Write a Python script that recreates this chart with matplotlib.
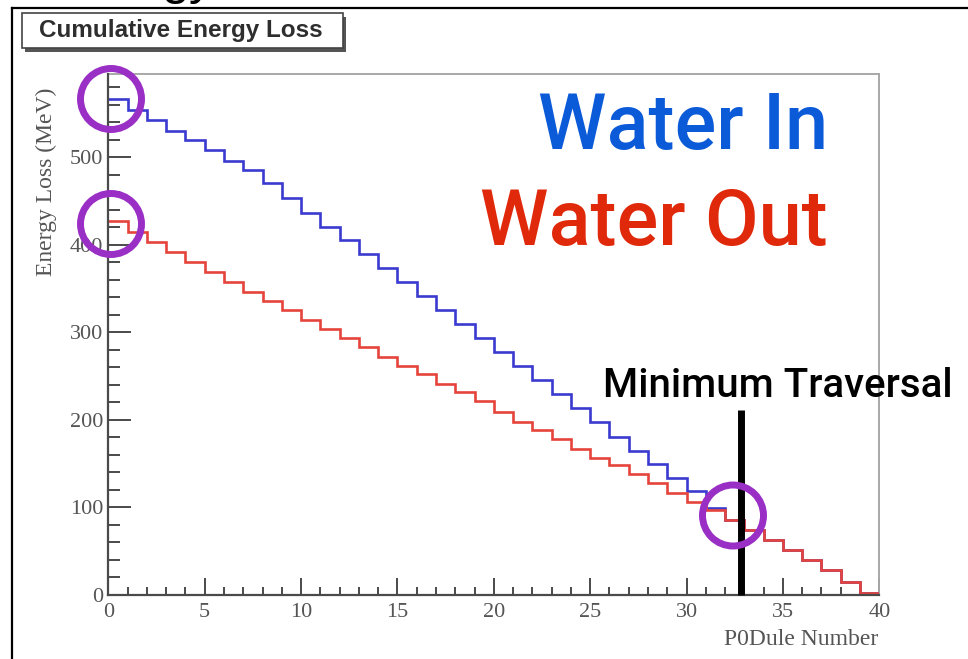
#!/usr/bin/env python
"""Cumulative energy loss per P0Dule, water-in vs water-out."""

import matplotlib

matplotlib.use("Agg")

import matplotlib.pyplot as plt
import numpy as np
from matplotlib.lines import Line2D
from matplotlib.patches import Ellipse, Rectangle

W, H = 968, 659

module_edges = np.arange(0, 41)
water_in = [566, 554, 543, 530, 520, 508, 496, 485, 470, 453,
            436, 420, 405, 389, 374, 357, 341, 325, 309, 293,
            278, 262, 246, 229, 214, 198, 181, 165, 150, 134,
            119, 99, 86, 74, 63, 51, 40, 28, 15, 2]
water_out = [427, 414, 403, 392, 380, 369, 357, 346, 336, 325,
             314, 304, 293, 283, 272, 262, 252, 241, 232, 222,
             209, 198, 188, 178, 167, 157, 148, 138, 128, 117,
             106, 97, 86, 74, 63, 51, 40, 28, 15, 2]
x_ticks = [0, 5, 10, 15, 20, 25, 30, 35, 40]
y_ticks = [0, 100, 200, 300, 400, 500]
y_max = 595
traversal_module = 32.8
traversal_top = 211

SERIF = "Liberation Serif"
SANS = "Roboto"
GREY_TEXT = "#555555"
AXIS_GREY = "#4a4a4a"
PURPLE = "#9a2fc6"


def fx(x):
    return x / W


def fy(y):
    return 1 - y / H


def ring(fig, cx, cy, r):
    fig.add_artist(Ellipse((fx(cx), fy(cy)), 2 * r / W, 2 * r / H, fill=False,
                           edgecolor=PURPLE, linewidth=5, transform=fig.transFigure, zorder=10))


fig = plt.figure(figsize=(W / 100, H / 100), dpi=100)
fig.patch.set_facecolor("white")

# slide frame and the tail of the slide heading above it
fig.add_artist(Line2D([fx(12), fx(12)], [fy(8), 0], color="black", lw=1.6, transform=fig.transFigure))
fig.add_artist(Line2D([fx(12), 1], [fy(8), fy(8)], color="black", lw=1.6, transform=fig.transFigure))
fig.text(fx(215), 1 + 5.5 / H, "gy", ha="right", va="baseline", fontsize=36,
         family="Liberation Sans", color="black")

ax = fig.add_axes([fx(108.3), fy(595), 771 / W, 521 / H])
ax.stairs(water_in, module_edges, baseline=None, color="#3a3ad0", linewidth=1.9, zorder=3)
ax.stairs(water_out, module_edges, baseline=None, color="#e5443c", linewidth=1.9, zorder=4)
ax.plot([traversal_module, traversal_module], [0, traversal_top], color="black",
        linewidth=5, solid_capstyle="butt", zorder=6, clip_on=False)

ax.set_xlim(0, 40)
ax.set_ylim(0, y_max)
ax.set_xticks(x_ticks)
ax.set_xticks(np.arange(0, 41), minor=True)
ax.set_yticks(y_ticks)
ax.set_yticks(np.arange(0, y_max, 20), minor=True)

ax.tick_params(axis="both", which="both", direction="in", color=AXIS_GREY, width=1.4,
               labelcolor=GREY_TEXT, labelsize=16)
ax.tick_params(axis="x", which="major", length=12, pad=6)
ax.tick_params(axis="x", which="minor", length=6)
ax.tick_params(axis="y", which="major", length=16.5, pad=3.5)
ax.tick_params(axis="y", which="minor", length=8.6)
ax.tick_params(top=False, right=False)
for label in ax.get_xticklabels() + ax.get_yticklabels():
    label.set_family(SERIF)

for side in ("left", "bottom"):
    ax.spines[side].set_color(AXIS_GREY)
    ax.spines[side].set_linewidth(1.6)
    ax.spines[side].set_zorder(5)
for side in ("top", "right"):
    ax.spines[side].set_color("#a8a8a8")
    ax.spines[side].set_linewidth(1.4)

fig.text(fx(878), fy(645), "P0Dule Number", ha="right", va="baseline", fontsize=17,
         family=SERIF, color=GREY_TEXT)
fig.text(fx(46), fy(88), "Energy Loss (MeV)", ha="center", va="top", rotation=90,
         fontsize=17, family=SERIF, color=GREY_TEXT)

# histogram title box with drop shadow
fig.add_artist(Rectangle((fx(25), fy(51.5)), 321 / W, 35 / H, facecolor="#555555",
                         edgecolor="none", transform=fig.transFigure, zorder=7))
fig.add_artist(Rectangle((fx(22), fy(48.3)), 321 / W, 35 / H, facecolor="white",
                         edgecolor="#444444", linewidth=1.2, transform=fig.transFigure, zorder=8))
fig.text(fx(181), fy(31), "Cumulative Energy Loss", ha="center", va="center", fontsize=17.5,
         fontweight="bold", family="Liberation Sans", color="#2e2e2e", zorder=9)

fig.text(fx(828), fy(149), "Water In", ha="right", va="baseline", fontsize=56,
         fontweight="medium", family=SANS, color="#0b5bd9")
fig.text(fx(828), fy(245), "Water Out", ha="right", va="baseline", fontsize=56,
         fontweight="medium", family=SANS, color="#e0290b")
fig.text(fx(603), fy(397), "Minimum Traversal", ha="left", va="baseline", fontsize=29,
         fontweight="medium", family=SANS, color="black")

ring(fig, 111, 99, 30.5)
ring(fig, 111, 224, 30.5)
ring(fig, 733, 515.5, 30.5)

fig.savefig("out.png", dpi=100, facecolor="white")
